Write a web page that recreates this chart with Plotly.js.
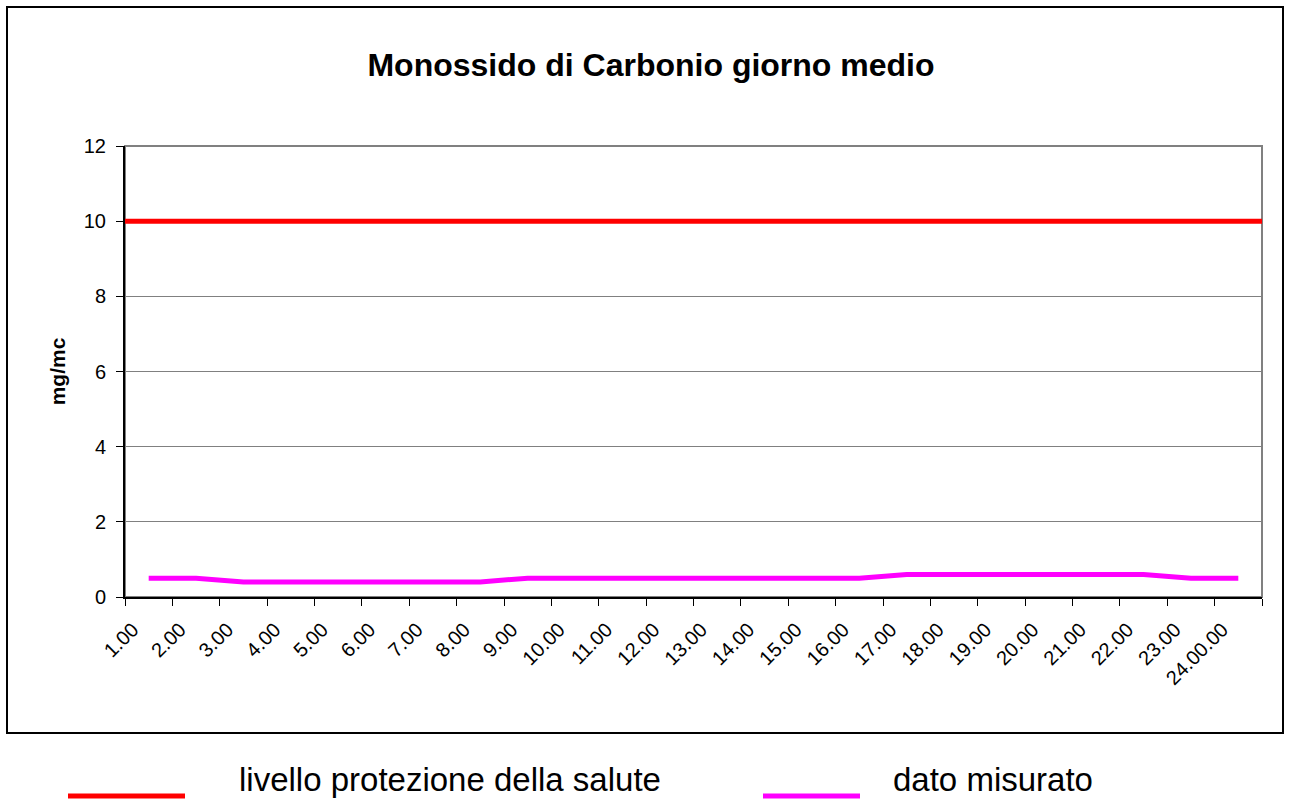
<!DOCTYPE html>
<html><head><meta charset="utf-8">
<script src="https://cdn.plot.ly/plotly-3.0.1.min.js"></script>
<style>html,body{margin:0;padding:0;background:#fff}#chart{width:1291px;height:799px}</style>
</head><body><div id="chart"></div>
<script>
var hours = ["1.00","2.00","3.00","4.00","5.00","6.00","7.00","8.00","9.00","10.00","11.00","12.00","13.00","14.00","15.00","16.00","17.00","18.00","19.00","20.00","21.00","22.00","23.00","24.00.00"];
var measured = [0.5,0.5,0.4,0.4,0.4,0.4,0.4,0.4,0.5,0.5,0.5,0.5,0.5,0.5,0.5,0.5,0.6,0.6,0.6,0.6,0.6,0.6,0.5,0.5];
var limitValue = 10;
var seriesNames = ["livello protezione della salute", "dato misurato"];
var seriesColors = ["#ff0000", "#ff00ff"];
var yTicks = [0,2,4,6,8,10,12];

var W = 1291, H = 799, L = 125, R = 1262, T = 146, B = 597;
function px(x){ return (x - L) / (R - L); }
function py(y){ return (B - y) / (B - T); }
var FONT = 'Liberation Sans, Arial, sans-serif';

var traces = [
  {x: [0, 1], y: [limitValue, limitValue], xaxis: 'x2', yaxis: 'y', mode: 'lines', name: seriesNames[0],
   line: {color: seriesColors[0], width: 5}, hoverinfo: 'y'},
  {x: hours, y: measured, mode: 'lines', name: seriesNames[1],
   line: {color: seriesColors[1], width: 5}}
];

var shapes = [
  {type: 'rect', xref: 'paper', yref: 'paper', x0: 0, x1: 1, y0: 0, y1: 1, line: {color: '#808080', width: 2}, layer: 'below'},
  {type: 'rect', xref: 'paper', yref: 'paper', x0: px(7), x1: px(1283), y0: py(7), y1: py(733), line: {color: '#000000', width: 2}},
  {type: 'line', xref: 'paper', yref: 'paper', x0: px(68), x1: px(185), y0: py(796), y1: py(796), line: {color: seriesColors[0], width: 5}},
  {type: 'line', xref: 'paper', yref: 'paper', x0: px(763), x1: px(860), y0: py(796), y1: py(796), line: {color: seriesColors[1], width: 5}}
];

var annotations = [
  {xref: 'paper', yref: 'paper', x: px(238), y: py(799), text: seriesNames[0], showarrow: false, xanchor: 'left', yanchor: 'bottom',
   borderpad: 0, font: {family: FONT, size: 33, color: '#000'}},
  {xref: 'paper', yref: 'paper', x: px(892), y: py(799), text: seriesNames[1], showarrow: false, xanchor: 'left', yanchor: 'bottom',
   borderpad: 0, font: {family: FONT, size: 33, color: '#000'}}
];

var layout = {
  width: W, height: H,
  margin: {l: L, r: W - R, t: T, b: H - B, pad: 0},
  paper_bgcolor: '#fff', plot_bgcolor: '#fff',
  showlegend: false,
  font: {family: FONT, color: '#000'},
  title: {text: '<b>Monossido di Carbonio giorno medio</b>', xref: 'container', yref: 'container', x: 651 / W, y: 1 - 65 / H,
          xanchor: 'center', yanchor: 'middle', font: {family: FONT, size: 32, color: '#000'}},
  xaxis: {type: 'category', range: [-0.5, 23.5], tickson: 'boundaries', ticks: 'outside', ticklen: 7, tickcolor: '#000', tickwidth: 1,
          showline: true, linecolor: '#000', linewidth: 2, showgrid: false, zeroline: false, tickangle: -45,
          ticklabelstandoff: 11, ticklabelshift: -16,
          tickfont: {size: 20, color: '#000'}, fixedrange: true},
  xaxis2: {overlaying: 'x', range: [0, 1], visible: false, fixedrange: true},
  yaxis: {range: [0, 12], tickvals: yTicks, ticks: 'outside', ticklen: 7, tickcolor: '#000', showline: true, linecolor: '#000', linewidth: 2,
          ticklabelstandoff: 6,
          showgrid: true, gridcolor: '#808080', gridwidth: 1, zeroline: false, tickfont: {size: 20, color: '#000'},
          title: {text: '<b>mg/mc</b>', font: {size: 21, color: '#000'}, standoff: 12}, fixedrange: true},
  shapes: shapes,
  annotations: annotations
};

Plotly.newPlot('chart', traces, layout, {displayModeBar: false, staticPlot: true});
</script></body></html>
